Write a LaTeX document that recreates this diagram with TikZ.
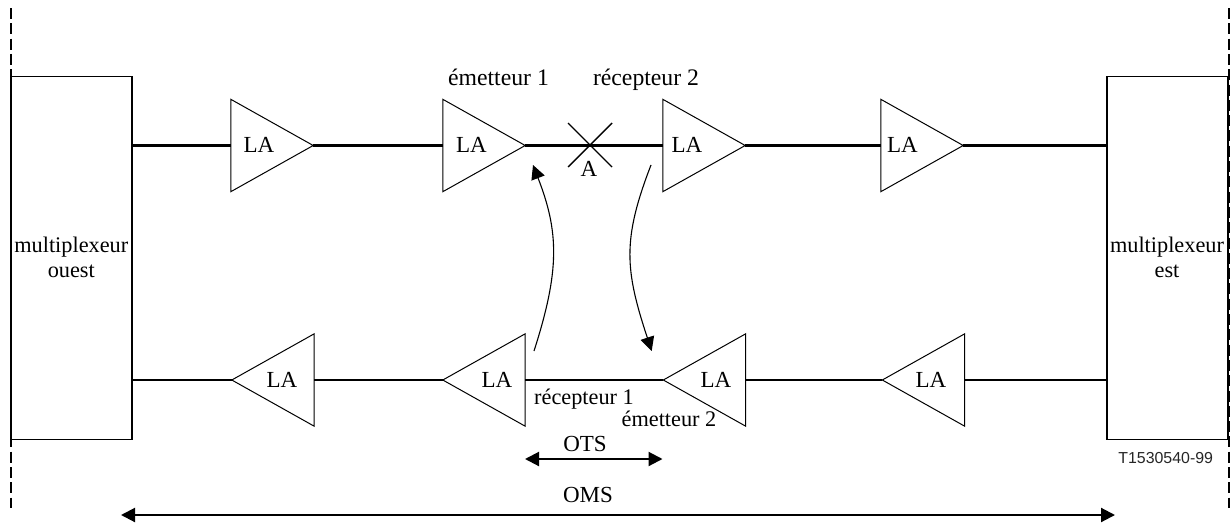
\documentclass[tikz,border=0pt]{standalone}
\usepackage{fontspec}
\setmainfont{Liberation Serif}
\newfontfamily\arialfont{Liberation Sans}
\usetikzlibrary{arrows.meta}
\tikzset{
  x=1pt,y=-1pt,
  thinline/.style={line width=1pt,draw=black},
  wire/.style={line width=2.1pt,draw=black},
  spanline/.style={line width=2.1pt,draw=black,{Triangle[length=14pt,width=14pt]}-{Triangle[length=14pt,width=14pt]}},
  curvearrow/.style={line width=1.1pt,draw=black,-{Triangle[length=14pt,width=14pt]}},
  txt/.style={inner sep=0pt,anchor=base,font=\fontsize{23}{23}\selectfont,align=center},
  txtbig/.style={txt,font=\fontsize{23.7}{23}\selectfont},
  txtsmall/.style={txt,font=\fontsize{22.3}{23}\selectfont},
  ampbox/.style={inner sep=0pt,minimum width=82pt,minimum height=92pt},
  muxbox/.style={line width=1.2pt,draw=black,inner sep=0pt,minimum width=121pt,minimum height=363pt},
  limitline/.style={line width=2.3pt,draw=black,dash pattern=on 11pt off 4.3pt},
}
% #1 name, #2 x, #3 y, #4 x of the label
\newcommand{\ampright}[4]{%
  \node[ampbox] (#1) at (#2,#3) {};
  \draw[thinline,line join=miter] (#1.north west) -- (#1.east) -- (#1.south west) -- cycle;
  \node[txt] (#1t) at (#4,#3+6.5) {LA};
}
\newcommand{\ampleft}[4]{%
  \node[ampbox] (#1) at (#2,#3) {};
  \draw[thinline,line join=miter] (#1.north east) -- (#1.west) -- (#1.south east) -- cycle;
  \node[txt] (#1t) at (#4,#3+7.5) {LA};
}
\begin{document}
\begin{tikzpicture}
\useasboundingbox (0,0) rectangle (1231,522);
% limits
\coordinate (lt) at (11,8); \coordinate (lb) at (11,508);
\coordinate (rt) at (1228.7,8); \coordinate (rb) at (1228.7,508);
\draw[limitline] (lt) -- (lb);
\draw[limitline] (rt) -- (rb);
% multiplexers
\node[muxbox] (mo) at (71.5,257.7) {};
\node[muxbox] (me) at (1167.5,257.7) {};
\node[txtsmall] (mot) at (71.3,252.5) {multiplexeur};
\node[txtsmall] (mou) at (71.3,277) {ouest};
\node[txtsmall] (met) at (1167,252.5) {multiplexeur};
\node[txtsmall] (mes) at (1167,277) {est};
% amplifiers
\ampright{a1}{272}{145.5}{259}
\ampright{a2}{484}{145.5}{471.5}
\ampright{a3}{704}{145.5}{687}
\ampright{a4}{922}{145.5}{902.5}
\ampleft{b1}{273}{380}{282}
\ampleft{b2}{484}{380}{497}
\ampleft{b3}{704.5}{380}{716}
\ampleft{b4}{923.5}{380}{931}
% connectors
\draw[wire] (mo.east |- a1) -- (a1.west);
\draw[wire] (a1.east) -- (a2.west);
\draw[wire] (a2.east) -- (a3.west);
\draw[wire] (a3.east) -- (a4.west);
\draw[wire] (a4.east) -- (me.west |- a4);
\draw[wire] (mo.east |- b1) -- (b1.west);
\draw[wire] (b1.east) -- (b2.west);
\draw[wire] (b2.east) -- (b3.west);
\draw[wire] (b3.east) -- (b4.west);
\draw[wire] (b4.east) -- (me.west |- b4);
% fault
\coordinate (xa) at (568,123); \coordinate (xb) at (612,167);
\coordinate (xc) at (612,123); \coordinate (xd) at (568,167);
\draw[line width=1.4pt] (xa) -- (xb);
\draw[line width=1.4pt] (xc) -- (xd);
\node[txt] (fa) at (589,176) {A};
% labels
\node[txtbig] (e1) at (498.5,85) {émetteur 1};
\node[txtbig] (r2) at (646,85) {récepteur 2};
\node[txtsmall] (r1) at (584,404.5) {récepteur 1};
\node[txtsmall] (e2) at (669,426) {émetteur 2};
\node[txt] (ots) at (585,451) {OTS};
\node[txt] (oms) at (588,502) {OMS};
\node[inner sep=0pt,anchor=base,font=\arialfont\fontsize{15.9}{16}\selectfont,text=black!85] (ref) at (1165.7,463.5) {T1530540-99};
% curved arrows
\coordinate (c1a) at (534,351); \coordinate (c1b) at (533,165);
\coordinate (c2a) at (651,165); \coordinate (c2b) at (651.7,351);
\draw[curvearrow] (c1a) .. controls (560,270) and (559,232) .. (c1b);
\draw[curvearrow] (c2a) .. controls (622,240) and (625,270) .. (c2b);
% spans
\coordinate (o1) at (525,459); \coordinate (o2) at (662.5,459);
\coordinate (m1) at (121,515); \coordinate (m2) at (1115,515);
\draw[spanline] (o1) -- (o2);
\draw[spanline] (m1) -- (m2);
\end{tikzpicture}
\end{document}
